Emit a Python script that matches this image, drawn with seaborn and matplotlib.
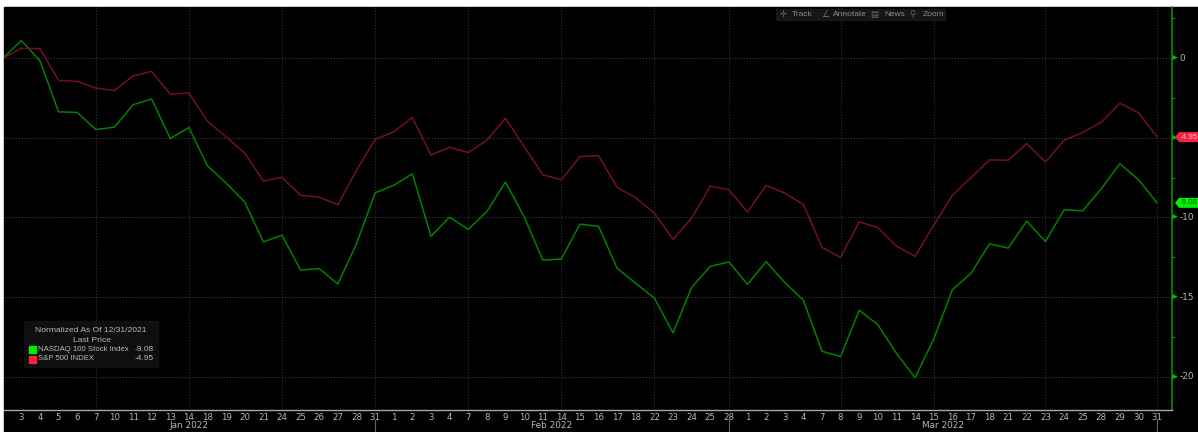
import matplotlib
matplotlib.use("Agg")
import matplotlib.pyplot as plt
from matplotlib.patches import Rectangle, Polygon
from matplotlib.transforms import blended_transform_factory, IdentityTransform
import pandas as pd
import seaborn as sns

# ---- data ----
day_labels = ["3","4","5","6","7","10","11","12","13","14","18","19","20","21","24","25","26","27","28","31",
              "1","2","3","4","7","8","9","10","11","14","15","16","17","18","22","23","24","25","28",
              "1","2","3","4","7","8","9","10","11","14","15","16","17","18","21","22","23","24","25","28","29","30","31"]
nasdaq = [0, 1.11, -0.15, -3.36, -3.40, -4.47, -4.33, -2.92, -2.56, -5.04, -4.35, -6.76, -7.84, -9.03, -11.53,
          -11.11, -13.3, -13.21, -14.18, -11.66, -8.45, -7.98, -7.25, -11.18, -9.98, -10.74, -9.64, -7.77, -9.94,
          -12.67, -12.61, -10.42, -10.55, -13.19, -14.14, -15.06, -17.25, -14.39, -13.07, -12.79, -14.2, -12.77,
          -14.08, -15.19, -18.4, -18.74, -15.82, -16.74, -18.53, -20.06, -17.64, -14.54, -13.51, -11.66, -11.92,
          -10.23, -11.51, -9.52, -9.58, -8.19, -6.62, -7.63, -9.08]
spx = [0, 0.63, 0.61, -1.39, -1.45, -1.87, -2.02, -1.11, -0.82, -2.25, -2.18, -3.95, -4.94, -5.95, -7.71,
       -7.48, -8.61, -8.72, -9.2, -7.04, -5.1, -4.62, -3.72, -6.07, -5.59, -5.92, -5.15, -3.76, -5.53,
       -7.31, -7.63, -6.18, -6.11, -8.11, -8.76, -9.73, -11.37, -10.04, -8.03, -8.26, -9.66, -7.98,
       -8.47, -9.18, -11.87, -12.5, -10.27, -10.63, -11.8, -12.44, -10.5, -8.61, -7.5, -6.38, -6.4,
       -5.36, -6.51, -5.15, -4.66, -4.01, -2.82, -3.42, -4.95]
grid_days = [5, 10, 15, 20, 25, 30, 35, 39, 45, 50, 56, 62]
month_names = ["Jan 2022", "Feb 2022", "Mar 2022"]
month_centers = [10, 29.5, 50.5]
month_ends = [20, 39, 62]
y_major = [0, -5, -10, -15, -20]
y_minor = [2.5, -2.5, -7.5, -12.5, -17.5]
y_labels = ["0", "-10", "-15", "-20"]
y_label_pos = [0, -10, -15, -20]
series_names = ["NASDAQ 100 Stock Index", "S&P 500 INDEX"]
last_values = [-9.08, -4.95]
legend_title = ["Normalized As Of 12/31/2021", "Last Price"]
toolbar_icons = ["✛", "∠", "▤", "⚲"]
toolbar_words = ["Track", "Annotate", "News", "Zoom"]

W, H = 1198, 432
GREEN, RED = "#008200", "#741026"
GRAY = "#b8b8b8"
NARROW = ["Liberation Sans", "DejaVu Sans"]

plt.rcParams["font.family"] = ["DejaVu Sans"]
sns.set_style("dark")
plt.rcParams["font.family"] = ["DejaVu Sans"]

fig = plt.figure(figsize=(W / 100, H / 100), dpi=100, facecolor="white")
fig.patches.append(Rectangle((4 / W, 0), 1 - 4 / W, 1 - 7 / H, transform=fig.transFigure, color="black", zorder=-10))

ax = fig.add_axes([4 / W, 1 - 410 / H, (1172.3 - 4) / W, (410 - 7) / H])
ax.set_facecolor("black")

df = pd.DataFrame({
    "day": list(range(len(nasdaq))) * 2,
    "value": nasdaq + spx,
    "series": [series_names[0]] * len(nasdaq) + [series_names[1]] * len(spx),
})
sns.lineplot(data=df, x="day", y="value", hue="series", palette=[GREEN, RED], linewidth=1.1,
             legend=False, ax=ax, zorder=3, estimator=None, sort=False)

ax.set_xlim((4 - 2.7) / 18.62, (1172.3 - 2.7) / 18.62)
ax.set_ylim((58.3 - 410) / 15.92, (58.3 - 7) / 15.92)
ax.set_xlabel("")
ax.set_ylabel("")
ax.grid(False)

for d in grid_days:
    ax.axvline(d, color="#2e2e2e", lw=0.8, ls=(0, (1, 1.6)), zorder=1)
for v in y_major:
    ax.axhline(v, color="#3e3e3e", lw=0.8, ls=(0, (1, 1.6)), zorder=1)

for s in ["top", "left"]:
    ax.spines[s].set_visible(False)
ax.spines["right"].set_color("#00a000")
ax.spines["right"].set_linewidth(1.1)
ax.spines["bottom"].set_color("#a8a8a8")
ax.spines["bottom"].set_linewidth(1.0)

ax.set_xticks(range(1, len(day_labels) + 1), labels=day_labels)
ax.tick_params(axis="x", length=0, pad=2, labelsize=6.2, labelcolor=GRAY)
ax.yaxis.tick_right()
ax.set_yticks(y_label_pos, labels=[])
ax.tick_params(axis="y", length=0)
ax.set_yticks(y_minor, minor=True)
ax.tick_params(axis="y", which="minor", length=2, width=0.8, color="#00a000", direction="out")

right = blended_transform_factory(ax.transAxes, ax.transData)
for v in y_major:
    ax.plot([1.002], [v], marker=">", ms=3.6, mew=0, color="#00c000", transform=right, clip_on=False, zorder=4)
for v, t in zip(y_label_pos, y_labels):
    ax.text(1.0062, v, t, transform=right, color=GRAY, fontsize=6.4, va="center", ha="left", clip_on=False)

# last-price tags, placed at the series' last value
for v, c, tc in [(last_values[1], "#ff1f45", "#ffc0cb"), (last_values[0], "#00f000", "#0a5a0a")]:
    yd = ax.transData.transform((0, v))[1]
    fig.patches.append(Polygon([(1175, yd), (1179, yd + 5), (1198, yd + 5), (1198, yd - 5), (1179, yd - 5)],
                               closed=True, transform=IdentityTransform(), fc=c, ec="none", zorder=5))
    fig.text(1179.3 / W, yd / H, f"{v:.2f}", color=tc, fontsize=5.7, family=NARROW, va="center", ha="left", zorder=6)

# month labels and separators
trans = blended_transform_factory(ax.transData, fig.transFigure)
for c, m in zip(month_centers, month_names):
    fig.text(c, 1 - 426 / H, m, transform=trans, color=GRAY, fontsize=6.4, ha="center", va="center")
for e in month_ends:
    fig.add_artist(plt.Line2D([e, e], [0, 1 - 420 / H], transform=trans, color="#666666", lw=0.8))

# legend panel in pixel coordinates
def px(x, y):
    return x / W, 1 - y / H

fig.patches.append(Rectangle(px(24, 367), 134 / W, 46 / H, transform=fig.transFigure, color="#0f0f0f", zorder=5))
fig.text(*px(90.5, 330), legend_title[0], color=GRAY, fontsize=6.1, family=NARROW, ha="center", va="center", zorder=6)
fig.text(*px(92, 340), legend_title[1], color=GRAY, fontsize=6.1, family=NARROW, ha="center", va="center", zorder=6)
for yy, name, val, col in zip([349.5, 359], series_names, last_values, ["#00f000", "#ff1f45"]):
    fig.patches.append(Rectangle(px(28.5, yy + 3.5), 7 / W, 7 / H, transform=fig.transFigure, color=col, zorder=6))
    fig.text(*px(38, yy), name, color=GRAY, fontsize=5.6, family=NARROW, ha="left", va="center", zorder=6)
    fig.text(*px(154, yy), f"{val:.2f}", color=GRAY, fontsize=6.0, family=NARROW, ha="right", va="center", zorder=6)

# toolbar
fig.patches.append(Rectangle(px(776, 20), 169 / W, 11 / H, transform=fig.transFigure, color="#161616", zorder=5))
for xi, xw, ic, w in zip([780, 821, 870, 909], [792, 833, 884, 923], toolbar_icons, toolbar_words):
    fig.text(*px(xi, 14.2), ic, color="#6a6a6a", fontsize=6.2, ha="left", va="center", zorder=6)
    fig.text(*px(xw, 14.2), w, color="#8a8a8a", fontsize=6.0, family=NARROW, ha="left", va="center", zorder=6)

fig.savefig("out.png", dpi=100, facecolor="white")
